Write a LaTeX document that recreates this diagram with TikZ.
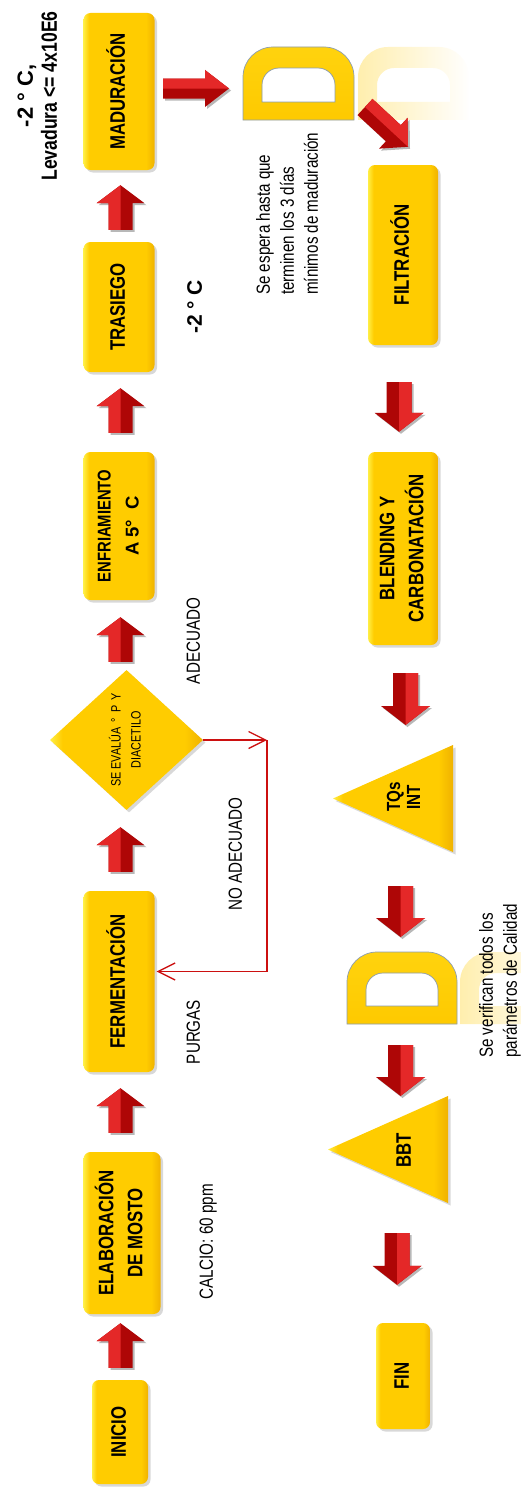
\documentclass[tikz,border=0pt]{standalone}
\usepackage{fontspec}
\usepackage{graphicx}
\setmainfont{Liberation Sans}
\newfontfamily\narrowsans[FakeStretch=0.8]{Liberation Sans}
\newfontfamily\widesans{Liberation Sans}
\usetikzlibrary{calc,shapes.geometric,shadows,fadings,arrows.meta}

\definecolor{goldmid}{HTML}{FFCC00}
\definecolor{goldlight}{HTML}{FFEE45}
\definecolor{golddark}{HTML}{F0B200}
\definecolor{arrowred}{HTML}{E42828}
\definecolor{arrowdeep}{HTML}{AE0606}
\definecolor{linkred}{HTML}{CC1010}
\definecolor{dedge}{HTML}{8C9DB0}

% gold fill: bright rim on the left, deeper gold on the right
\pgfdeclarehorizontalshading{goldbox}{100bp}{color(0bp)=(goldlight); color(25bp)=(goldlight);
  color(29bp)=(goldmid); color(69bp)=(goldmid); color(75bp)=(golddark); color(100bp)=(golddark)}

% rotated text block (lines read bottom to top)
\newcommand\vlines[2][c]{\rotatebox{90}{\begin{tabular}{@{}#1@{}}#2\end{tabular}}}

% bevelled block arrow: tail, tip, shaft half-width, head half-width, head length
\newcommand\blockarrow[5]{%
  \coordinate (ba-a) at #1;
  \coordinate (ba-b) at #2;
  \coordinate (ba-h) at ($(ba-b)!#5pt!(ba-a)$);
  \coordinate (ba-tl) at ($(ba-a)!#3pt!90:(ba-b)$);
  \coordinate (ba-tr) at ($(ba-a)!#3pt!-90:(ba-b)$);
  \coordinate (ba-sl) at ($(ba-h)!#3pt!90:(ba-b)$);
  \coordinate (ba-sr) at ($(ba-h)!#3pt!-90:(ba-b)$);
  \coordinate (ba-hl) at ($(ba-h)!#4pt!90:(ba-b)$);
  \coordinate (ba-hr) at ($(ba-h)!#4pt!-90:(ba-b)$);
  \fill[black, opacity=.28, transform canvas={shift={(2pt,-2pt)}}]
    (ba-tl) -- (ba-sl) -- (ba-hl) -- (ba-b) -- (ba-hr) -- (ba-sr) -- (ba-tr) -- cycle;
  \fill[arrowdeep] (ba-tl) -- (ba-sl) -- (ba-hl) -- (ba-b) -- (ba-hr) -- (ba-sr) -- (ba-tr) -- cycle;
  \fill[arrowred] (ba-tl) -- (ba-sl) -- (ba-hl) -- (ba-b) -- (ba-h) -- (ba-a) -- cycle;
}

% letter-like "D" (delay) symbol inside the box of node #1
\newcommand\dletter[2]{%
  \path[#2, even odd rule]
    (#1.south west) -- ($(#1.north west)+(0,-30)$) arc[start angle=180, end angle=90, radius=30pt]
    -- ($(#1.north east)+(-30,0)$) arc[start angle=90, end angle=0, radius=30pt]
    -- (#1.south east) -- cycle
    ($(#1.south west)+(19,18)$) -- ($(#1.north west)+(19,-38)$) arc[start angle=180, end angle=90, radius=17pt]
    -- ($(#1.north east)+(-36,-21)$) arc[start angle=90, end angle=0, radius=17pt]
    -- ($(#1.south east)+(-19,18)$) -- cycle;
}

\tikzset{
  goldshadow/.style={drop shadow={shadow xshift=2.5pt, shadow yshift=-2.5pt, opacity=.3}},
  stepbox/.style={shade, shading=goldbox, rounded corners=7pt, inner sep=0pt, goldshadow,
    font=\narrowsans\bfseries\fontsize{21}{29}\selectfont},
  decision/.style={diamond, shade, shading=goldbox, inner sep=0pt, aspect=1.09, goldshadow,
    font=\narrowsans\fontsize{13.5}{20}\selectfont},
  goldshape/.style={shade, shading=goldbox, goldshadow},
  holder/.style={inner sep=0pt, outer sep=0pt},
  note/.style={inner sep=0pt, font=\narrowsans\fontsize{19}{24}\selectfont},
  boldnote/.style={inner sep=0pt, font=\narrowsans\bfseries\fontsize{22}{24}\selectfont},
  shapetext/.style={inner sep=0pt, font=\narrowsans\bfseries\fontsize{19}{20}\selectfont},
  link/.style={draw=linkred, line width=1.3pt, -{Straight Barb[length=17pt,width=17pt]}},
  dsolid/.style={shade, top color=goldmid!80!goldlight, bottom color=goldmid!90!golddark, draw=dedge, line width=0.7pt},
  dreflect/.style={fill=goldmid!70!white, fill opacity=.45, path fading=east},
}

\begin{document}
\begin{tikzpicture}[x=1pt, y=1pt]
\useasboundingbox (0,0) rectangle (521,-1488);
\fill[white] (0,0) rectangle (521,-1488);

% ---------- process column ----------
\node[stepbox, minimum width=56pt, minimum height=104pt] (ini) at (120,-1432) {\vlines{INICIO}};
\node[stepbox, minimum width=77pt, minimum height=162pt] (elab) at (122,-1233) {\vlines{ELABORACIÓN\\DE MOSTO}};
\node[stepbox, minimum width=71pt, minimum height=181pt] (ferm) at (119,-981.5) {\vlines{FERMENTACIÓN}};
\node[decision, minimum width=153pt, minimum height=140pt] (diam) at (126.5,-740) {\vlines{SE EVALÚA \,°\, P\, Y\\DIACETILO}};
\node[stepbox, minimum width=71pt, minimum height=148pt, font=\narrowsans\bfseries\fontsize{18.5}{28}\selectfont] (enf) at (119,-526)
  {\vlines{ENFRIAMIENTO\\{\widesans A 5°\ \ C}}};
\node[stepbox, minimum width=71pt, minimum height=130pt] (tras) at (119,-307) {\vlines{TRASIEGO}};
\node[stepbox, minimum width=71pt, minimum height=157pt] (mad) at (119,-91.5) {\vlines{MADURACIÓN}};

% ---------- finishing column ----------
\node[holder, minimum width=111pt, minimum height=73pt] (d1) at (298.5,-83.5) {};
\node[holder, minimum width=111pt, minimum height=73pt] (d1r) at (413.5,-83.5) {};
\node[stepbox, minimum width=70pt, minimum height=180pt] (fil) at (403,-255) {\vlines{FILTRACIÓN}};
\node[stepbox, minimum width=70pt, minimum height=193pt] (blend) at (403,-548.5) {\vlines{BLENDING Y\\CARBONATACIÓN}};
\node[holder, minimum width=120pt, minimum height=107pt] (tqbox) at (393,-798.5) {};
\node[holder, minimum width=110pt, minimum height=72pt] (d2) at (402,-988) {};
\node[holder, minimum width=110pt, minimum height=72pt] (d2r) at (515,-988) {};
\node[holder, minimum width=120pt, minimum height=107pt] (bbbox) at (388,-1149.5) {};
\node[stepbox, minimum width=54pt, minimum height=106pt] (fin) at (403,-1376) {\vlines{FIN}};

% storage triangles
\path[goldshape] (tqbox.north east) -- (tqbox.south east) -- (tqbox.west) -- cycle;
\path[goldshape] (bbbox.north east) -- (bbbox.south east) -- (bbbox.west) -- cycle;
\node[shapetext] (tqs) at (406,-797) {\vlines{TQs\\INT}};
\node[shapetext, font=\narrowsans\bfseries\fontsize{21}{24}\selectfont] (bbt) at (406,-1150) {\vlines{BBT}};

% delay symbols with their faded reflections
\dletter{d1r}{dreflect}
\dletter{d2r}{dreflect}
\dletter{d1}{dsolid}
\dletter{d2}{dsolid}

% ---------- notes ----------
\node[boldnote] (toptemp) at (40,-96) {\vlines{{\widesans -2 ° C,}\\Levadura <= 4x10E6}};
\node[boldnote, font=\widesans\bfseries\fontsize{21}{24}\selectfont] (trastemp) at (197,-307) {\vlines{-2 ° C}};
\node[note, anchor=south] (espera) at (289,-295) {\vlines[l]{Se espera hasta que\\terminen los 3 días\\mínimos de maduración}};
\node[note] (ok) at (195,-641) {\vlines{ADECUADO}};
\node[note] (notok) at (237,-854) {\vlines{NO ADECUADO}};
\node[note] (purgas) at (195,-1032) {\vlines{PURGAS}};
\node[note] (calcio) at (208,-1242) {\vlines{CALCIO: 60 ppm}};
\node[note, anchor=south] (verif) at (500,-1058) {\vlines[l]{Se verifican todos los\\parámetros de Calidad}};

% ---------- rework loop ----------
\coordinate (bend) at (267,-740);
\draw[link] (diam.east) -- (bend);
\draw[link] (bend) |- ($(ferm.east)+(2,10)$);

% ---------- block arrows ----------
\blockarrow{($(ini.north)+(0.5,12)$)}{($(elab.south)+(-1.5,-9)$)}{12}{24}{18}
\blockarrow{($(elab.north)+(-1.5,19)$)}{($(ferm.south)+(1.5,-16)$)}{12}{24}{18}
\blockarrow{($(ferm.north)+(1.5,19)$)}{($(diam.south)+(-6,-17)$)}{12}{24}{18}
\blockarrow{($(diam.north)+(-6,8)$)}{($(enf.south)+(1.5,-17)$)}{12}{24}{18}
\blockarrow{($(enf.north)+(1.5,19)$)}{($(tras.south)+(1.5,-16)$)}{12}{24}{18}
\blockarrow{($(tras.north)+(1.5,12)$)}{($(mad.south)+(1.5,-15)$)}{12}{24}{18}
\blockarrow{($(mad.east)+(8.5,3)$)}{($(d1.west)+(-14,-5)$)}{10}{18.5}{24}
\blockarrow{($(d1.south east)+(11,13)$)}{($(fil.north)+(5,18)$)}{11}{21}{20}
\blockarrow{($(fil.south)+(-4,-37)$)}{($(blend.north)+(-4,20)$)}{12.5}{24.5}{19}
\blockarrow{($(blend.south)+(2.5,-28)$)}{($(tqbox.north)+(12.5,20)$)}{12.5}{24.5}{19}
\blockarrow{($(tqbox.south)+(7.5,-34)$)}{($(d2.north)+(-1.5,15)$)}{12.5}{24.5}{19}
\blockarrow{($(d2.south)+(-1.5,-21)$)}{($(bbbox.north)+(12.5,0)$)}{12.5}{24.5}{19}
\blockarrow{($(bbbox.south)+(9,-30)$)}{($(fin.north)+(-6,38)$)}{12.5}{24.5}{19}
\end{tikzpicture}
\end{document}
